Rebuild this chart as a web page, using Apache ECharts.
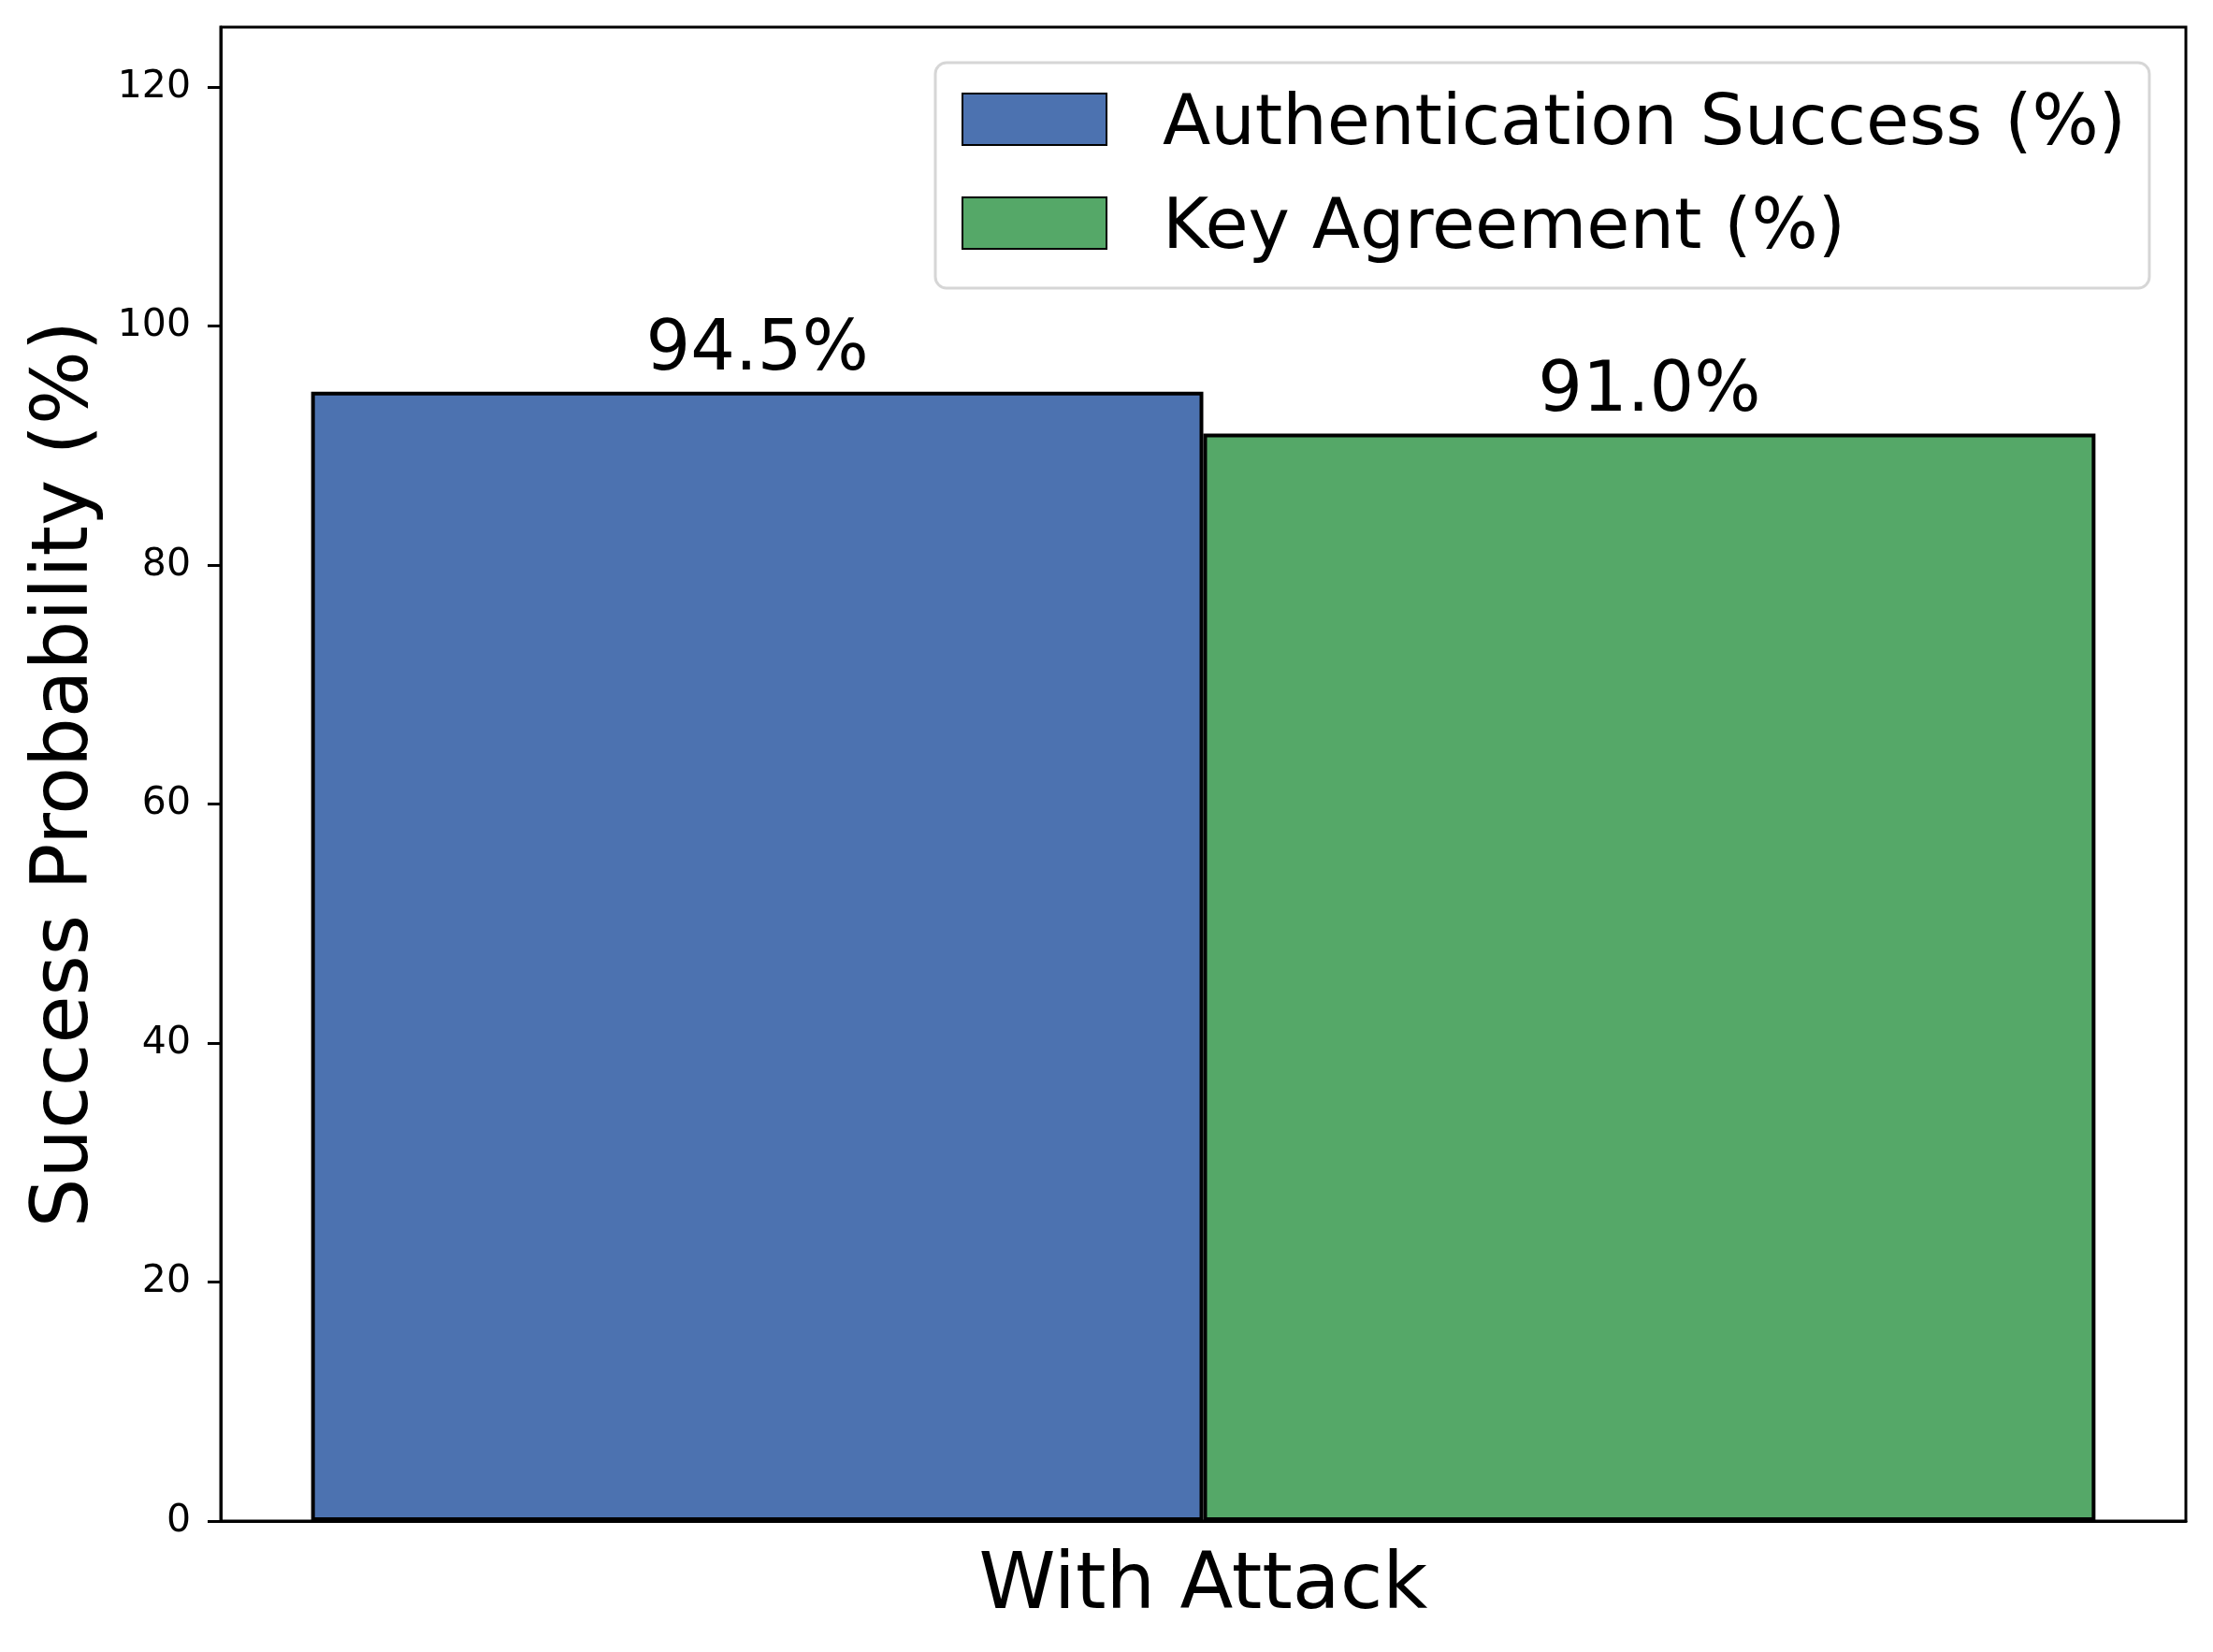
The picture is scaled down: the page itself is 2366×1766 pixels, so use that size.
<!DOCTYPE html>
<html>
<head>
<meta charset="utf-8">
<script src="https://cdn.jsdelivr.net/npm/echarts@6/dist/echarts.min.js"></script>
<style>
  html, body { margin: 0; padding: 0; background: #fff; }
  #chart { width: 2366px; height: 1766px; }
</style>
</head>
<body>
<div id="chart"></div>
<script>
const categories = ['With Attack']
const authSuccess = [94.5]
const keyAgreement = [91.0]
const yTicks = [0, 20, 40, 60, 80, 100, 120]

const font = 'DejaVu Sans'
const chart = echarts.init(document.getElementById('chart'))

const barLabel = {
  show: true,
  position: 'top',
  distance: 6,
  fontFamily: font,
  fontSize: 75,
  lineHeight: 75,
  color: '#000',
  formatter: p => p.value.toFixed(1) + '%'
}

// legend swatch: a 154x55 box with some empty room below, so the text sits a bit lower like matplotlib
const swatch = 'path://M0,0h154v55h-154Z M0,69'

chart.setOption({
  animation: false,
  backgroundColor: '#fff',
  textStyle: { fontFamily: font },
  grid: {
    left: 236,
    right: 29,
    top: 29,
    bottom: 140,
    show: true,
    borderColor: '#000',
    borderWidth: 3,
    backgroundColor: 'transparent'
  },
  legend: {
    orient: 'vertical',
    left: 1000,
    top: 67,
    padding: [30, 25, 25, 28],
    itemWidth: 154,
    itemHeight: 69,
    itemGap: 36,
    icon: swatch,
    backgroundColor: '#fff',
    borderColor: '#d6d6d6',
    borderWidth: 3,
    borderRadius: 12,
    textStyle: {
      fontFamily: font,
      fontSize: 75,
      color: '#000',
      padding: [0, 0, 0, 55]
    }
  },
  xAxis: {
    type: 'category',
    data: categories,
    axisLine: { lineStyle: { color: '#000', width: 3 } },
    axisTick: { alignWithLabel: true, length: 14, lineStyle: { color: '#000', width: 3 } },
    axisLabel: { fontFamily: font, fontSize: 83, lineHeight: 83, color: '#000', margin: 30 }
  },
  yAxis: {
    type: 'value',
    min: 0,
    max: 125,
    interval: 20,
    name: 'Success Probability (%)',
    nameLocation: 'middle',
    nameGap: 123,
    nameTextStyle: { fontFamily: font, fontSize: 83, color: '#000' },
    axisLine: { show: true, lineStyle: { color: '#000', width: 3 } },
    axisTick: { show: true, length: 14, customValues: yTicks, lineStyle: { color: '#000', width: 3 } },
    axisLabel: { fontFamily: font, fontSize: 41, color: '#000', margin: 32, customValues: yTicks },
    splitLine: { show: false }
  },
  series: [
    {
      name: 'Authentication Success (%)',
      type: 'bar',
      data: authSuccess,
      barCategoryGap: '9.2%',
      barGap: '0%',
      itemStyle: { color: '#4C72B0', borderColor: '#000', borderWidth: 4 },
      label: barLabel
    },
    {
      name: 'Key Agreement (%)',
      type: 'bar',
      data: keyAgreement,
      barCategoryGap: '9.2%',
      barGap: '0%',
      itemStyle: { color: '#55A868', borderColor: '#000', borderWidth: 4 },
      label: barLabel
    }
  ]
})
</script>
</body>
</html>
